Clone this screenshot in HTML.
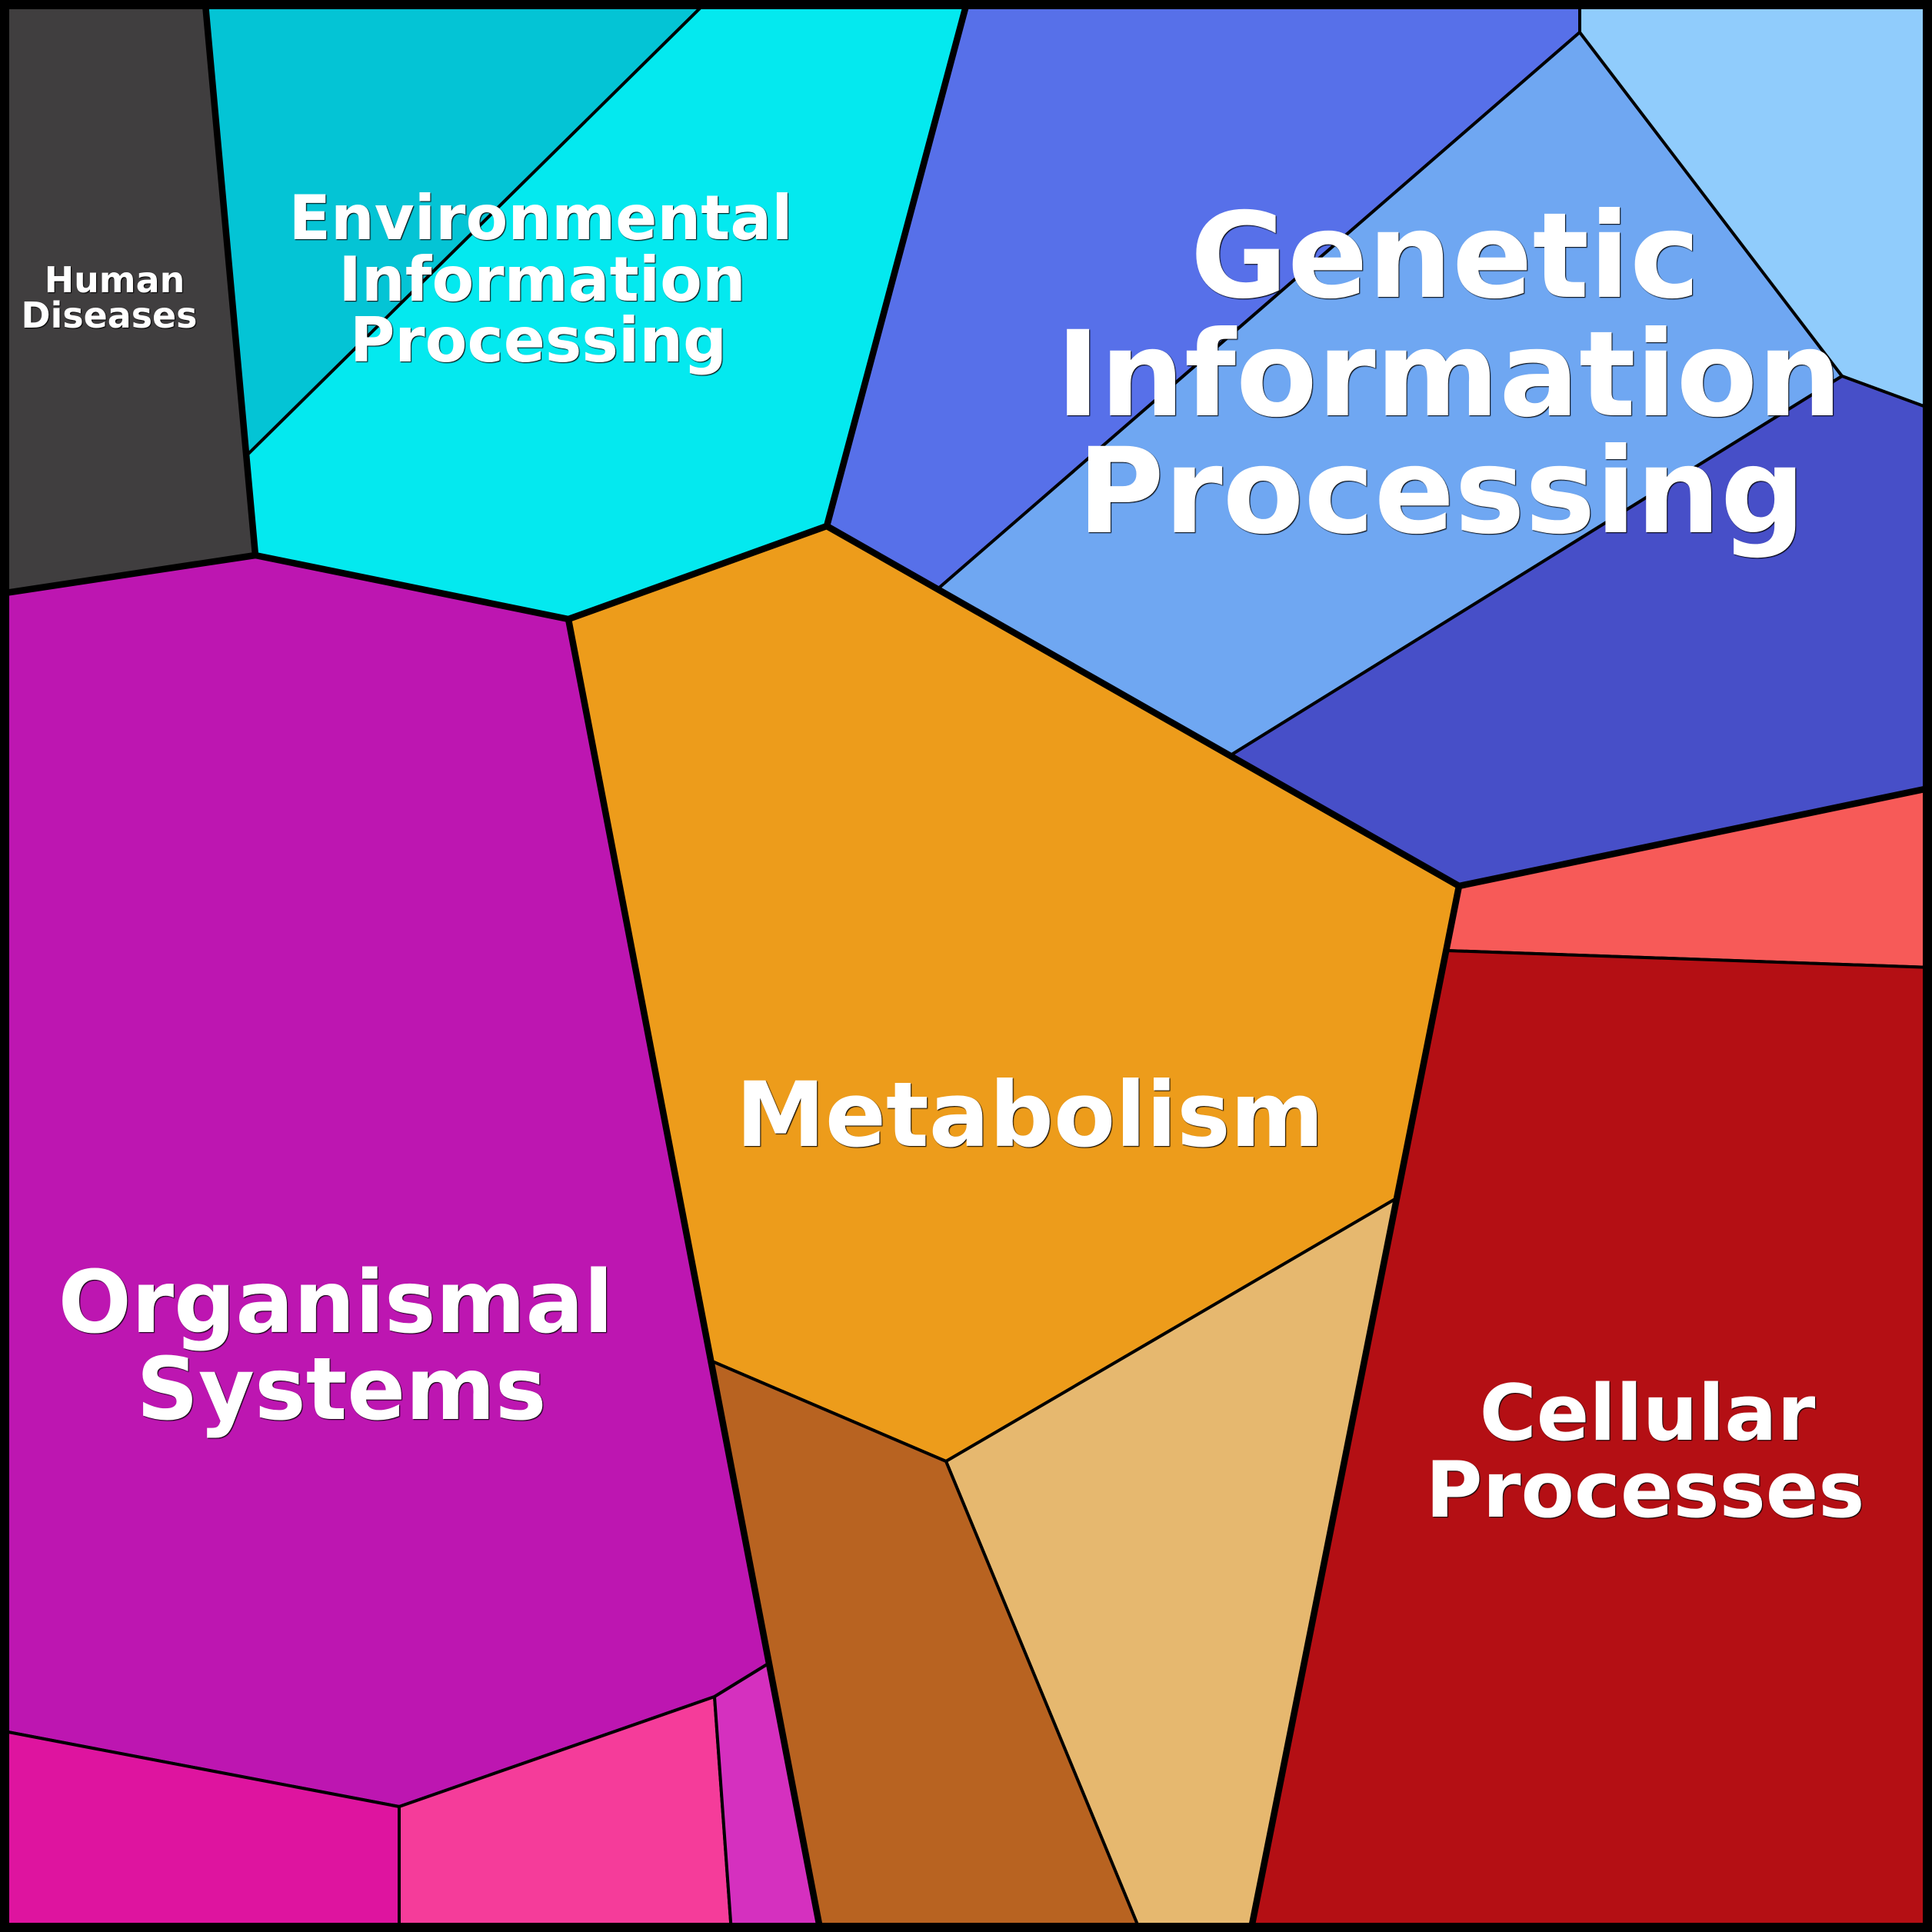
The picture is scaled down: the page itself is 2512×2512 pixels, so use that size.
<!DOCTYPE html>
<html><head><meta charset="utf-8"><style>
html,body{margin:0;padding:0;background:#fff}
svg{display:block}
text{font-family:"DejaVu Sans","Liberation Sans",sans-serif;font-weight:bold;fill:#fff;text-anchor:middle;filter:drop-shadow(1px 1.5px 0.6px #000)}
</style></head><body>
<svg xmlns="http://www.w3.org/2000/svg" width="2512" height="2512" viewBox="0 0 2512 2512">
<g stroke="#000" stroke-width="4" stroke-linejoin="round">
<polygon fill="#403e3f" points="0,0 266.5,0 332,722 0,772"/>
<polygon fill="#04c4d5" points="266.5,0 921,0 322,591"/>
<polygon fill="#04e9ef" points="921,0 1258,0 1075,684 739,805 332,722 322,591"/>
<polygon fill="#5770e9" points="1258,0 2054,0 2054,42 1219,766 1075,684"/>
<polygon fill="#6fa7f2" points="2054,42 2395,489 1600,982 1219,766"/>
<polygon fill="#90ccfc" points="2054,0 2512,0 2512,532 2395,489 2054,42"/>
<polygon fill="#474fc8" points="2395,489 2512,532 2512,1024 1897,1152 1600,982"/>
<polygon fill="#ed9c1b" points="1075,684 1897,1152 1882,1236 1814,1559 1230,1900 926,1770 739,805"/>
<polygon fill="#e6b86f" points="1814,1559 1626,2512 1483,2512 1230,1900"/>
<polygon fill="#b86321" points="926,1770 1230,1900 1483,2512 1067,2512"/>
<polygon fill="#f75a58" points="1897,1152 2512,1024 2512,1258 1882,1236"/>
<polygon fill="#b40f14" points="1882,1236 2512,1258 2512,2512 1626,2512"/>
<polygon fill="#bd16b1" points="0,772 332,722 739,805 999,2163 929,2206 519,2349 0,2250"/>
<polygon fill="#de149f" points="0,2250 519,2349 519,2512 0,2512"/>
<polygon fill="#f53c9a" points="519,2349 929,2206 951,2512 519,2512"/>
<polygon fill="#d530bf" points="929,2206 999,2163 1067,2512 951,2512"/>
</g>
<g fill="none" stroke="#000" stroke-width="8.5" stroke-linejoin="round" stroke-linecap="round">
<polyline points="0,772 332,722 266.5,0"/>
<polyline points="1258,0 1075,684 739,805 332,722"/>
<polyline points="739,805 1067,2512"/>
<polyline points="1075,684 1897,1152 1626,2512"/>
<polyline points="1897,1152 2512,1024"/>
</g>
<rect x="6" y="6" width="2500" height="2500" fill="none" stroke="#000" stroke-width="12" stroke-linejoin="round"/>
<text x="149" y="380" font-size="45.9">Human</text>
<text x="142" y="426" font-size="45.9">Diseases</text>
<text x="703" y="311" font-size="79.8">Environmental</text>
<text x="705" y="391" font-size="79.8">Information</text>
<text x="700" y="470" font-size="79.8">Processing</text>
<text x="1879" y="386" font-size="154">Genetic</text>
<text x="1884" y="540" font-size="154">Information</text>
<text x="1874" y="692" font-size="154">Processing</text>
<text x="1339" y="1490" font-size="116.7">Metabolism</text>
<text x="436.5" y="1732" font-size="112">Organismal</text>
<text x="444" y="1845" font-size="112">Systems</text>
<text x="2142" y="1872" font-size="101.1">Cellular</text>
<text x="2139" y="1972" font-size="101.1">Processes</text>
</svg>
</body></html>
